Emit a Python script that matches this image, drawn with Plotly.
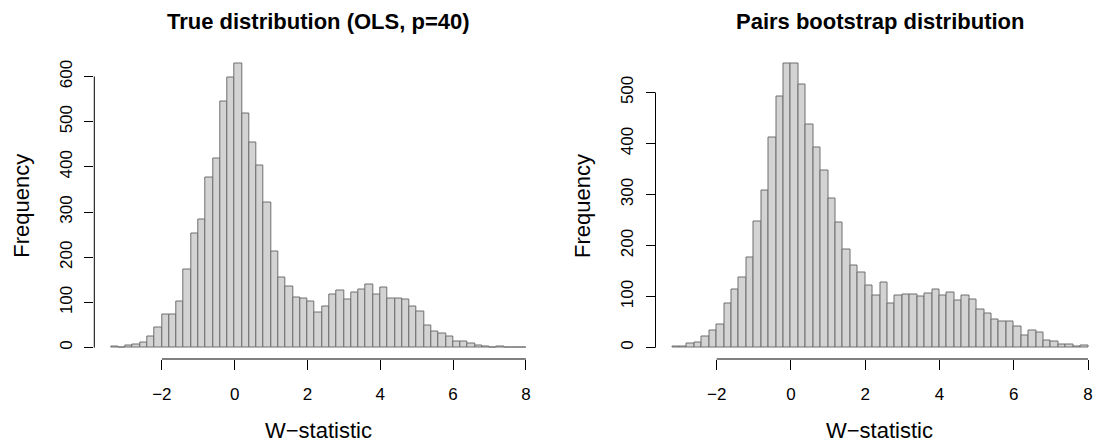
import numpy as np
import plotly.graph_objects as go

# ---- data ----
bin_width = 0.2
left_start = -3.4
left_counts = [3, 1, 4, 7, 12, 24, 45, 73, 74, 102,
               173, 253, 284, 377, 419, 545, 597, 628, 518, 453,
               403, 322, 213, 156, 135, 111, 109, 102, 77, 91,
               117, 126, 106, 122, 129, 139, 118, 134, 109, 109,
               106, 91, 80, 49, 35, 31, 24, 13, 13, 9,
               4, 2, 0, 3, 1, 1, 1]
right_start = -3.2
right_counts = [3, 3, 8, 11, 21, 33, 45, 87, 113, 138,
                176, 248, 308, 412, 493, 556, 556, 515, 437, 392,
                347, 293, 246, 193, 161, 148, 122, 102, 128, 86,
                103, 105, 105, 101, 107, 113, 103, 108, 92, 102,
                95, 75, 67, 55, 51, 51, 42, 24, 33, 30,
                14, 13, 7, 7, 3, 5]
x_ticks = [-2, 0, 2, 4, 6, 8]
x_ticktext = ["\u22122", "0", "2", "4", "6", "8"]
left_yticks = [0, 100, 200, 300, 400, 500, 600]
right_yticks = [0, 100, 200, 300, 400, 500]
titles = ["True distribution (OLS, p=40)", "Pairs bootstrap distribution"]
xlabel = "W\u2212statistic"
ylabel = "Frequency"

left_centers = [round(left_start + bin_width * (i + 0.5), 4) for i in range(len(left_counts))]
right_centers = [round(right_start + bin_width * (i + 0.5), 4) for i in range(len(right_counts))]

W, H = 1096, 444
FONT = "Liberation Sans, Arial, Helvetica, sans-serif"

# plot regions in pixels
L_x0, L_x1 = 94.3, 542.5
R_x0, R_x1 = 655.5, 1096.0
y_top, y_bot = 52.5, 359.0

def px(x):
    return x / W

def py(y):
    return (H - y) / H

fig = go.Figure()
bar_style = dict(marker=dict(color="#d3d3d3", line=dict(color="#6e6e6e", width=1)),
                 width=bin_width, showlegend=False, hoverinfo="x+y")
fig.add_trace(go.Bar(x=left_centers, y=left_counts, xaxis="x", yaxis="y", **bar_style))
fig.add_trace(go.Bar(x=right_centers, y=right_counts, xaxis="x2", yaxis="y2", **bar_style))

tickfont = dict(family=FONT, size=17, color="black")
common_x = dict(showgrid=False, zeroline=False, showline=False, ticks="outside", ticklen=10,
                tickwidth=1, tickcolor="black", tickvals=x_ticks, ticktext=x_ticktext,
                tickfont=tickfont, ticklabelstandoff=10, autorange=False)
common_y = dict(showgrid=False, zeroline=False, showline=False, ticks="outside", ticklen=9,
                tickwidth=1, tickcolor="black", tickangle=-90,
                tickfont=tickfont, ticklabelstandoff=6, autorange=False)

# R-style ranges: 4% extension of data range
lmax = max(left_counts)
rmax = max(right_counts)
fig.update_layout(
    width=W, height=H,
    margin=dict(l=0, r=0, t=0, b=0),
    paper_bgcolor="white", plot_bgcolor="white",
    bargap=0,
    xaxis=dict(domain=[px(L_x0), px(L_x1)], range=[-3.856, 8.456], anchor="y", **common_x),
    yaxis=dict(domain=[py(y_bot), py(y_top)], range=[-0.04 * lmax, 1.04 * lmax], anchor="x",
               tickvals=left_yticks, **common_y),
    xaxis2=dict(domain=[px(R_x0), px(R_x1)], range=[-3.648, 8.215], anchor="y2", **common_x),
    yaxis2=dict(domain=[py(y_bot), py(y_top)], range=[-0.04 * rmax, 1.04 * rmax], anchor="x2",
                tickvals=right_yticks, **common_y),
)

# R-style axis lines spanning first to last tick
line = dict(color="black", width=1)
fig.add_shape(type="line", xref="x", yref="paper", x0=x_ticks[0], x1=x_ticks[-1],
              y0=py(y_bot), y1=py(y_bot), line=line)
fig.add_shape(type="line", xref="x2", yref="paper", x0=x_ticks[0], x1=x_ticks[-1],
              y0=py(y_bot), y1=py(y_bot), line=line)
fig.add_shape(type="line", xref="paper", yref="y", x0=px(L_x0), x1=px(L_x0),
              y0=left_yticks[0], y1=left_yticks[-1], line=line)
fig.add_shape(type="line", xref="paper", yref="y2", x0=px(R_x0), x1=px(R_x0),
              y0=right_yticks[0], y1=right_yticks[-1], line=line)

# titles and axis labels
centers = [(L_x0 + L_x1) / 2, (R_x0 + R_x0 + (L_x1 - L_x0)) / 2]
lefts = [L_x0, R_x0]
for i in range(2):
    fig.add_annotation(text="<b>" + titles[i] + "</b>", x=px(centers[i]), y=py(21.5),
                       xref="paper", yref="paper", showarrow=False, xanchor="center",
                       yanchor="middle", font=dict(family=FONT, size=22, color="black"))
    fig.add_annotation(text=xlabel, x=px(centers[i]), y=py(430.5),
                       xref="paper", yref="paper", showarrow=False, xanchor="center",
                       yanchor="middle", font=dict(family=FONT, size=22, color="black"))
    fig.add_annotation(text=ylabel, x=px(lefts[i] - 72.3), y=py((y_top + y_bot) / 2),
                       xref="paper", yref="paper", showarrow=False, xanchor="center",
                       yanchor="middle", textangle=-90,
                       font=dict(family=FONT, size=22, color="black"))

fig.write_html("out.html", config={"displayModeBar": False})
